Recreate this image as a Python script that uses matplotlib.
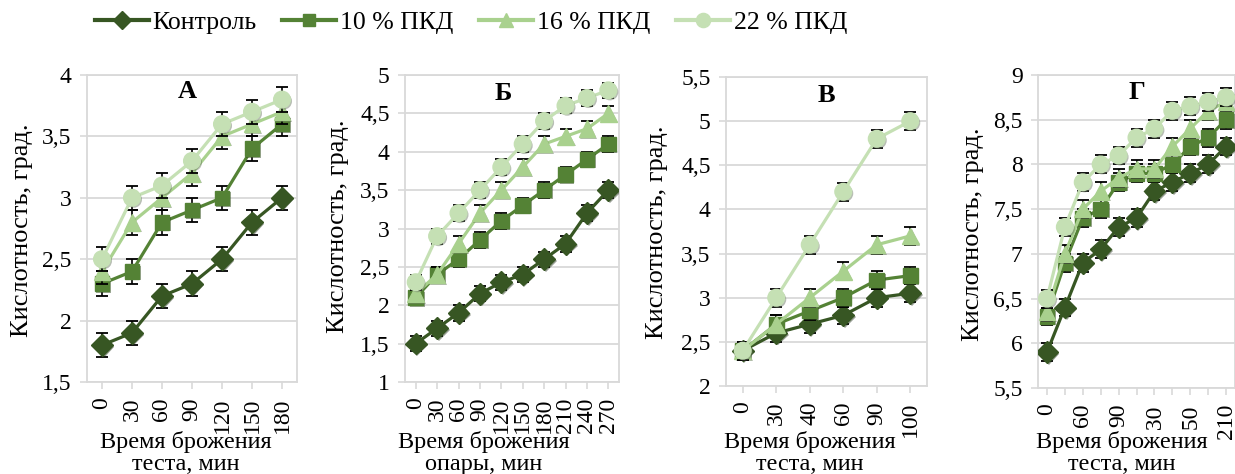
import os
import matplotlib
matplotlib.use("Agg")
import matplotlib.pyplot as plt
import matplotlib.patheffects as pe
import matplotlib.font_manager as fm
from matplotlib.lines import Line2D
from matplotlib.ticker import FuncFormatter

# Times-like serif face for every text
SERIF_DIR = "/usr/share/fonts/truetype/liberation/"
reg_path = os.path.join(SERIF_DIR, "LiberationSerif-Regular.ttf")
bold_path = os.path.join(SERIF_DIR, "LiberationSerif-Bold.ttf")
for f in (reg_path, bold_path):
    if os.path.exists(f):
        fm.fontManager.addfont(f)
plt.rcParams["font.family"] = ["Liberation Serif", "DejaVu Serif"]

# ---- data -------------------------------------------------------------
series_names = ["Контроль", "10 % ПКД", "16 % ПКД", "22 % ПКД"]

a_times = ["0", "30", "60", "90", "120", "150", "180"]
a_control = [1.8, 1.9, 2.2, 2.3, 2.5, 2.8, 3.0]
a_pkd10 = [2.3, 2.4, 2.8, 2.9, 3.0, 3.4, 3.6]
a_pkd16 = [2.4, 2.8, 3.0, 3.2, 3.5, 3.6, 3.7]
a_pkd22 = [2.5, 3.0, 3.1, 3.3, 3.6, 3.7, 3.8]

b_times = ["0", "30", "60", "90", "120", "150", "180", "210", "240", "270"]
b_control = [1.5, 1.7, 1.9, 2.15, 2.3, 2.4, 2.6, 2.8, 3.2, 3.5]
b_pkd10 = [2.1, 2.4, 2.6, 2.85, 3.1, 3.3, 3.5, 3.7, 3.9, 4.1]
b_pkd16 = [2.15, 2.4, 2.8, 3.2, 3.5, 3.8, 4.1, 4.2, 4.3, 4.5]
b_pkd22 = [2.3, 2.9, 3.2, 3.5, 3.8, 4.1, 4.4, 4.6, 4.7, 4.8]

v_times = ["0", "30", "40", "60", "90", "100"]
v_control = [2.4, 2.6, 2.7, 2.8, 3.0, 3.05]
v_pkd10 = [2.4, 2.7, 2.85, 3.0, 3.2, 3.25]
v_pkd16 = [2.4, 2.7, 3.0, 3.3, 3.6, 3.7]
v_pkd22 = [2.4, 3.0, 3.6, 4.2, 4.8, 5.0]

g_times = ["0", "30", "60", "75", "90", "110", "130", "140", "150", "180", "210"]
g_control = [5.9, 6.4, 6.9, 7.05, 7.3, 7.4, 7.7, 7.8, 7.9, 8.0, 8.2]
g_pkd10 = [6.3, 6.9, 7.4, 7.5, 7.8, 7.9, 7.9, 8.0, 8.2, 8.3, 8.5]
g_pkd16 = [6.35, 7.0, 7.5, 7.7, 7.85, 7.95, 7.95, 8.2, 8.4, 8.6, 8.7]
g_pkd22 = [6.5, 7.3, 7.8, 8.0, 8.1, 8.3, 8.4, 8.6, 8.65, 8.7, 8.75]

error = 0.1  # ± deviation shown by the error bars

# ---- styles -----------------------------------------------------------
colors = ["#375623", "#548235", "#A9D18E", "#C5E0B4"]
markers = ["D", "s", "^", "o"]
msizes = [11, 10.5, 12, 12]
grid_c = "#D9D9D9"
FS_TICK = 17
FS_XLAB = 17.5
FS_YLAB = 19
FS_LETTER = 19


def fp(size, bold=False):
    path = bold_path if bold else reg_path
    if os.path.exists(path):
        return fm.FontProperties(fname=path, size=size)
    return fm.FontProperties(family="serif", size=size,
                             weight="bold" if bold else "normal")


W, H = 1235, 474
fig = plt.figure(figsize=(W / 100, H / 100), dpi=100)


def px_rect(x0, y0, x1, y1):
    return [x0 / W, 1 - y1 / H, (x1 - x0) / W, (y1 - y0) / H]


panels = [
    dict(letter="А", times=a_times, data=[a_control, a_pkd10, a_pkd16, a_pkd22],
         ylim=(1.5, 4), ystep=0.5, rect=(87, 75, 297, 382), lstep=1,
         xlabel="Время брожения\nтеста, мин", xl=(186, 453), yl=(22, 230),
         letter_pos=(0.48, 0.945), cover=False),
    dict(letter="Б", times=b_times, data=[b_control, b_pkd10, b_pkd16, b_pkd22],
         ylim=(1, 5), ystep=0.5, rect=(405, 75, 619, 382), lstep=1,
         xlabel="Время брожения\nопары, мин", xl=(484, 453), yl=(338, 226),
         letter_pos=(0.46, 0.94), cover=False),
    dict(letter="В", times=v_times, data=[v_control, v_pkd10, v_pkd16, v_pkd22],
         ylim=(2, 5.5), ystep=0.5, rect=(726, 77, 927, 386), lstep=1,
         xlabel="Время брожения\nтеста, мин", xl=(810, 453), yl=(657, 232),
         letter_pos=(0.5, 0.94), cover=False),
    dict(letter="Г", times=g_times, data=[g_control, g_pkd10, g_pkd16, g_pkd22],
         ylim=(5.5, 9), ystep=0.5, rect=(1038, 75, 1235, 388), lstep=2,
         xlabel="Время брожения\nтеста, мин", xl=(1122, 453), yl=(973, 234),
         letter_pos=(0.5, 0.945), cover=True),
]

comma = FuncFormatter(lambda v, _: f"{v:g}".replace(".", ","))
shadow = [pe.SimplePatchShadow(offset=(1.2, -1.2), alpha=0.45, rho=0.5), pe.Normal()]

for p in panels:
    ax = fig.add_axes(px_rect(*p["rect"]))
    n = len(p["times"])
    xs = list(range(n))
    for i, ys in enumerate(p["data"]):
        ax.errorbar(xs, ys, yerr=error, fmt="none", ecolor="black",
                    elinewidth=1.2, capsize=4, capthick=1.3, zorder=2 + i)
        ax.plot(xs, ys, color=colors[i], lw=2.3, zorder=2.5 + i)
        ax.plot(xs, ys, ls="none", marker=markers[i], ms=msizes[i],
                mfc=colors[i], mec=colors[i], zorder=2.6 + i,
                path_effects=shadow)
    ax.set_xlim(-0.5, n - 0.5)
    lo, hi = p["ylim"]
    ax.set_ylim(lo, hi)
    ticks = []
    t = lo
    while t <= hi + 1e-9:
        ticks.append(round(t, 2))
        t += p["ystep"]
    ax.set_yticks(ticks)
    ax.yaxis.set_major_formatter(comma)
    ax.set_xticks(xs)
    ax.set_xticklabels([lab if k % p["lstep"] == 0 else ""
                        for k, lab in enumerate(p["times"])],
                       rotation=90, va="top", ha="center")
    ax.grid(axis="y", color=grid_c, lw=1.3)
    ax.set_axisbelow(True)
    for s in ax.spines.values():
        s.set_color(grid_c)
        s.set_linewidth(1.3)
    ax.tick_params(axis="both", colors=grid_c, labelcolor="black",
                   length=5, width=1.2)
    ax.tick_params(axis="y", pad=6)
    ax.tick_params(axis="x", pad=6)
    for lab in ax.get_xticklabels() + ax.get_yticklabels():
        lab.set_fontproperties(fp(FS_TICK))
    ax.text(p["letter_pos"][0], p["letter_pos"][1], p["letter"],
            transform=ax.transAxes, ha="center", va="center",
            fontproperties=fp(FS_LETTER, bold=True), zorder=10)
    box = dict(facecolor="white", edgecolor="none", pad=0.5) if p["cover"] else None
    fig.text(p["xl"][0] / W, 1 - p["xl"][1] / H, p["xlabel"], ha="center",
             va="center", fontproperties=fp(FS_XLAB), linespacing=1.1, bbox=box)
    fig.text(p["yl"][0] / W, 1 - p["yl"][1] / H, "Кислотность, град.",
             rotation=90, ha="center", va="center", fontproperties=fp(FS_YLAB))

handles = [Line2D([], [], color=colors[i], lw=3, marker=markers[i],
                  ms=msizes[i] * 0.85, mfc=colors[i], mec=colors[i])
           for i in range(4)]
fig.legend(handles, series_names, loc="center", bbox_to_anchor=(471 / W, 1 - 23 / H),
           ncol=4, frameon=False, prop=fp(18.5), handlelength=2.1,
           handletextpad=0.15, columnspacing=1.0, borderaxespad=0)

fig.savefig("out.png", dpi=100, facecolor="white")
